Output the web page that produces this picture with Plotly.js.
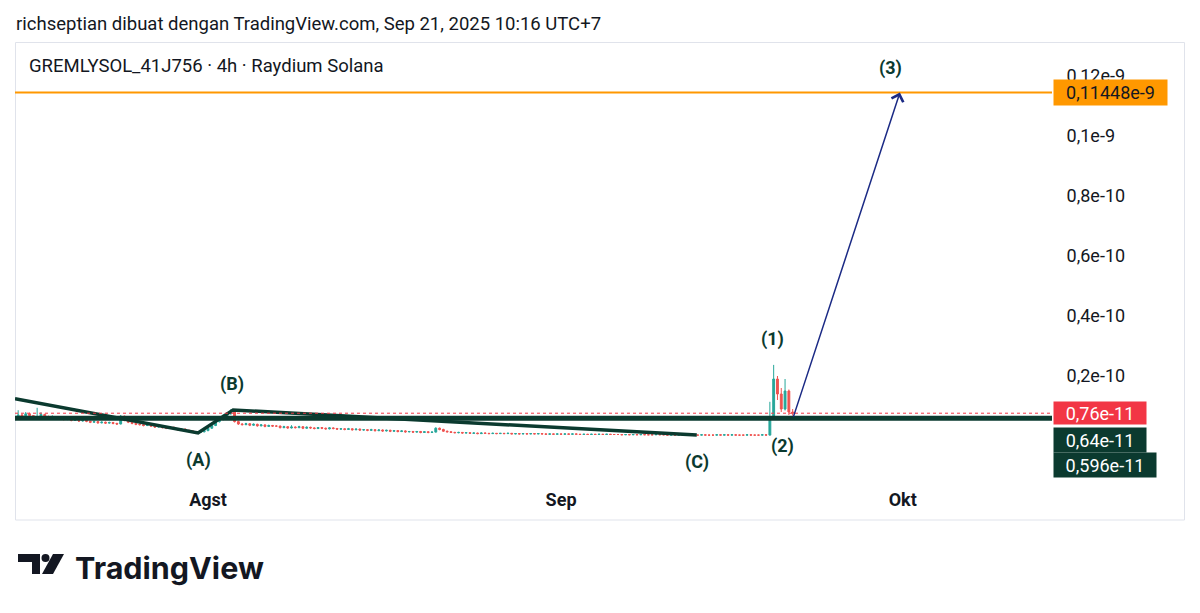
<!DOCTYPE html>
<html><head><meta charset="utf-8">
<script src="https://cdn.plot.ly/plotly-3.0.1.min.js"></script>
<style>html,body{margin:0;padding:0;background:#fff;}#chart{width:1200px;height:613px;}</style>
</head><body><div id="chart"></div>
<script>
// ---- data (prices in units of 1e-12) ----
const candleStart = '2025-07-15T00:00:00';
const candleStepHours = 8;
const openV = [6.0,6.2,7.0,6.6,7.4,6.8,6.1,6.5,7.2,
6.4,6.0,6.3,5.8,5.9,5.5,5.7,5.2,5.4,
5.0,5.3,4.9,4.6,4.8,4.4,4.6,4.3,4.5,
4.2,4.0,6.6,5.2,4.6,4.2,3.9,3.8,3.5,
3.7,3.3,3.0,3.2,2.8,2.6,2.9,2.4,2.1,
2.3,1.9,1.7,1.5,1.2,1.4,
1.8,2.6,3.5,4.8,5.5,6.6,7.4,8.2,4.8,
4.0,3.8,4.1,3.6,3.9,3.4,3.7,3.2,3.5,
3.3,3.3,2.8,3.1,2.7,3.0,2.8,3.1,2.6,
2.9,2.7,2.5,2.8,2.6,2.4,2.7,2.5,2.3,
2.4,2.2,2.4,2.1,2.3,2.0,2.1,1.9,2.1,
1.8,2.0,1.7,1.9,1.6,1.8,1.5,1.7,1.4,
1.5,1.3,1.5,1.2,1.4,1.2,1.3,2.6,2.2,
1.6,1.4,1.2,1.1,1.2,1.0,1.1,0.9,1.0,
0.8,1.0,0.9,0.8,0.9,0.8,0.9,0.8,0.9,
0.7,0.8,0.7,0.8,0.7,0.8,0.7,0.8,0.7,
0.6,0.7,0.6,
0.7,0.6,0.7,0.6,0.7,0.6,0.5,0.6,0.5,
0.6,0.5,0.6,0.5,0.6,0.5,0.5,0.5,0.4,
0.5,0.4,0.5,0.4,0.5,0.4,0.4,0.4,0.5,
0.4,0.4,0.3,0.4,0.3,0.4,0.3,0.4,0.3,
0.3,0.3,0.4,0.3,0.3,0.3,0.4,0.3,0.4,
0.3,0.4,0.3,0.3,0.3,0.4,0.3,0.3,0.3,
0.4,0.3,6.0,19.0,14.0,9.0,15.0,8.0];
const highV = [7.2,8.6,7.4,8.0,7.8,7.0,9.4,7.9,7.4,
6.8,6.9,6.5,6.4,6.1,6.0,5.9,5.8,5.6,
5.6,5.5,5.1,5.2,4.9,4.9,4.8,4.8,4.7,
4.4,7.0,6.8,5.4,4.8,4.4,4.2,4.0,4.0,
3.9,3.5,3.5,3.4,3.0,3.2,3.1,2.6,2.6,
2.5,2.1,1.9,1.7,1.7,2.1,
2.9,3.9,5.3,6.1,7.2,8.0,8.9,8.5,5.1,
4.3,4.4,4.3,4.2,4.1,4.0,3.9,3.8,3.7,
3.6,3.5,3.4,3.3,3.6,3.2,3.4,3.3,3.2,
3.1,2.9,3.0,3.0,2.8,2.9,2.9,2.7,2.6,
2.6,2.7,2.6,2.5,2.5,2.3,2.3,2.4,2.3,
2.3,2.2,2.1,2.1,2.0,2.0,1.9,1.9,1.7,
1.7,1.7,1.7,1.6,1.6,1.5,2.9,2.8,2.4,
1.8,1.6,1.4,1.4,1.3,1.3,1.2,1.2,1.1,
1.2,1.1,1.0,1.1,1.0,1.0,1.0,1.1,1.0,
0.9,0.9,0.9,0.9,0.9,0.9,0.9,0.9,0.8,
0.8,0.8,0.8,
0.8,0.8,0.8,0.8,0.8,0.7,0.7,0.7,0.7,
0.7,0.7,0.7,0.7,0.7,0.6,0.6,0.6,0.6,
0.6,0.6,0.6,0.6,0.6,0.5,0.5,0.6,0.6,
0.5,0.5,0.5,0.5,0.5,0.5,0.5,0.5,0.4,
0.4,0.5,0.5,0.4,0.4,0.5,0.5,0.5,0.5,
0.5,0.5,0.4,0.4,0.5,0.5,0.4,0.4,0.5,
0.5,11.4,23.7,20.0,16.0,19.0,15.5,9.0];
const lowV = [5.7,6.0,6.3,6.4,6.5,5.8,5.9,6.3,6.1,
5.7,5.8,5.5,5.5,5.2,5.3,4.9,5.0,4.7,
4.8,4.6,4.3,4.4,4.1,4.2,4.0,4.1,3.9,
3.7,3.9,4.9,4.3,3.9,3.6,3.5,3.2,3.3,
3.0,2.7,2.8,2.5,2.3,2.4,2.1,1.8,1.9,
1.6,1.4,1.2,0.9,1.0,1.2,
1.6,2.4,3.3,4.5,5.2,6.3,7.1,4.5,3.7,
3.5,3.6,3.3,3.4,3.1,3.2,2.9,3.0,3.0,
3.0,2.5,2.6,2.4,2.5,2.5,2.6,2.3,2.4,
2.4,2.2,2.3,2.3,2.1,2.2,2.2,2.0,2.1,
1.9,2.0,1.8,1.9,1.7,1.8,1.6,1.7,1.5,
1.6,1.4,1.5,1.3,1.4,1.2,1.3,1.1,1.2,
1.0,1.1,0.9,1.0,0.9,1.0,1.2,1.9,1.4,
1.2,1.0,0.9,0.9,0.8,0.9,0.7,0.8,0.6,
0.7,0.7,0.6,0.7,0.6,0.7,0.6,0.7,0.6,
0.6,0.5,0.6,0.5,0.6,0.6,0.6,0.5,0.5,
0.5,0.5,0.5,
0.5,0.5,0.5,0.5,0.5,0.4,0.4,0.4,0.4,
0.4,0.4,0.4,0.4,0.4,0.4,0.4,0.3,0.3,
0.3,0.3,0.3,0.3,0.3,0.3,0.3,0.3,0.3,
0.3,0.2,0.2,0.2,0.2,0.2,0.2,0.2,0.2,
0.2,0.2,0.2,0.2,0.2,0.2,0.2,0.2,0.2,
0.2,0.2,0.2,0.2,0.2,0.2,0.2,0.2,0.2,
0.2,0.2,5.5,12.0,8.0,8.5,7.0,6.8];
const closeV = [6.2,7.0,6.6,7.4,6.8,6.1,6.5,7.2,6.4,
6.0,6.3,5.8,5.9,5.5,5.7,5.2,5.4,5.0,
5.3,4.9,4.6,4.8,4.4,4.6,4.3,4.5,4.2,
4.0,6.6,5.2,4.6,4.2,3.9,3.8,3.5,3.7,
3.3,3.0,3.2,2.8,2.6,2.9,2.4,2.1,2.3,
1.9,1.7,1.5,1.2,1.4,1.8,
2.6,3.5,4.8,5.5,6.6,7.4,8.2,4.8,4.0,
3.8,4.1,3.6,3.9,3.4,3.7,3.2,3.5,3.3,
3.3,2.8,3.1,2.7,3.0,2.8,3.1,2.6,2.9,
2.7,2.5,2.8,2.6,2.4,2.7,2.5,2.3,2.4,
2.2,2.4,2.1,2.3,2.0,2.1,1.9,2.1,1.8,
2.0,1.7,1.9,1.6,1.8,1.5,1.7,1.4,1.5,
1.3,1.5,1.2,1.4,1.2,1.3,2.6,2.2,1.6,
1.4,1.2,1.1,1.2,1.0,1.1,0.9,1.0,0.8,
1.0,0.9,0.8,0.9,0.8,0.9,0.8,0.9,0.7,
0.8,0.7,0.8,0.7,0.8,0.7,0.8,0.7,0.6,
0.7,0.6,0.7,
0.6,0.7,0.6,0.7,0.6,0.5,0.6,0.5,0.6,
0.5,0.6,0.5,0.6,0.5,0.5,0.5,0.4,0.5,
0.4,0.5,0.4,0.5,0.4,0.4,0.4,0.5,0.4,
0.4,0.3,0.4,0.3,0.4,0.3,0.4,0.3,0.3,
0.3,0.4,0.3,0.3,0.3,0.4,0.3,0.4,0.3,
0.4,0.3,0.3,0.3,0.4,0.3,0.3,0.3,0.4,
0.3,6.0,19.0,14.0,9.0,15.0,8.0,7.6];

// Drawn levels
const targetLevel = 114.48;     // 0,11448e-9
const lastPrice = 7.6;          // 0,76e-11
const level2 = 6.4;             // 0,64e-11
const supportLevel = 5.96;      // 0,596e-11

// Zig-zag drawing (start, A, B, C)
const waveX = ['2025-07-15 01:20','2025-07-31 03:00','2025-08-03 05:00','2025-09-12 22:00'];
const waveY = [12.4, 1.0, 8.7, 0.3];

// Wave labels
const labelText = ['(A)','(B)','(C)','(1)','(2)','(3)'];
const labelX = ['2025-07-31 05:00','2025-08-03 02:40','2025-09-12 22:20','2025-09-19 14:30','2025-09-20 09:40','2025-09-29 23:00'];
const labelY = [-8.0, 17.3, -8.7, 32.3, -3.3, 122.7];

// Projection arrow
const arrowFromX = '2025-09-21 08:40', arrowFromY = supportLevel;
const arrowToX = '2025-09-30 18:00', arrowToY = targetLevel;

// Axis ticks
const xTickVals = ['2025-08-01','2025-09-01','2025-10-01'];
const xTickText = ['Agst','Sep','Okt'];
const yTickVals = [20,40,60,80,100,120];
const yTickText = ['0,2e-10','0,4e-10','0,6e-10','0,8e-10','0,1e-9','0,12e-9'];

// ---- build ----
const t0 = new Date(candleStart + 'Z').getTime();
const times = openV.map((_, i) => new Date(t0 + i*candleStepHours*3600e3).toISOString().slice(0,16).replace('T',' '));

const W = 1200, H = 613, L = 15, R = 148, T = 42, B = 131;
const PW = W - L - R, PH = H - T - B;
const PX = px => (px - L) / PW;
const PY = py => (H - B - py) / PH;

const DARK = '#0b3a2f';
const FONT = 'Roboto, "Noto Sans", sans-serif';

const traces = [
  {type:'candlestick', x: times, open: openV, high: highV, low: lowV, close: closeV,
   increasing:{line:{color:'#26a69a', width:1}, fillcolor:'#26a69a'},
   decreasing:{line:{color:'#ef5350', width:1}, fillcolor:'#ef5350'},
   whiskerwidth:0, hoverinfo:'skip', showlegend:false},
  {type:'scatter', mode:'lines', x: waveX, y: waveY, line:{color:DARK, width:3.5}, hoverinfo:'skip', showlegend:false}
];

const shapes = [
  {type:'rect', xref:'paper', yref:'paper', x0:PX(15.5), x1:PX(1184.5), y0:PY(520), y1:PY(42.5), line:{color:'#e0e3eb', width:1}, layer:'below'},
  {type:'line', xref:'paper', yref:'y', x0:0, x1:1, y0:lastPrice, y1:lastPrice, line:{color:'#f23645', width:1, dash:'dot'}},
  {type:'line', xref:'paper', yref:'y', x0:0, x1:1, y0:supportLevel, y1:supportLevel, line:{color:DARK, width:5}},
  {type:'line', xref:'paper', yref:'y', x0:0, x1:1, y0:targetLevel, y1:targetLevel, line:{color:'#ff9800', width:2}},
  // TradingView logo mark
  {type:'path', xref:'paper', yref:'paper', path:`M ${PX(18)} ${PY(554)} L ${PX(40)} ${PY(554)} L ${PX(40)} ${PY(574)} L ${PX(32)} ${PY(574)} L ${PX(32)} ${PY(562)} L ${PX(18)} ${PY(562)} Z`, fillcolor:'#131722', line:{width:0}},
  {type:'circle', xref:'paper', yref:'paper', x0:PX(41.5), x1:PX(49.5), y0:PY(562), y1:PY(554), fillcolor:'#131722', line:{width:0}},
  {type:'path', xref:'paper', yref:'paper', path:`M ${PX(53)} ${PY(554)} L ${PX(64)} ${PY(554)} L ${PX(53)} ${PY(574)} L ${PX(42)} ${PY(574)} Z`, fillcolor:'#131722', line:{width:0}}
];

const annotations = [
  {xref:'paper', yref:'paper', x:PX(14), y:PY(24), xanchor:'left', yanchor:'middle', showarrow:false,
   text:'richseptian dibuat dengan TradingView.com, Sep 21, 2025 10:16 UTC+7', font:{family:FONT, size:18.5, color:'#131722'}},
  {xref:'paper', yref:'paper', x:PX(26.5), y:PY(66), xanchor:'left', yanchor:'middle', showarrow:false,
   text:'GREMLYSOL_41J756 · 4h · Raydium Solana', font:{family:FONT, size:18.5, color:'#131722'}},
  {xref:'paper', yref:'paper', x:PX(73), y:PY(567), xanchor:'left', yanchor:'middle', showarrow:false,
   text:'TradingView', font:{family:'Inter, Lato, sans-serif', size:30.5, color:'#131722', weight:700}},
  // arrow
  {xref:'x', yref:'y', axref:'x', ayref:'y', x:arrowToX, y:arrowToY, ax:arrowFromX, ay:arrowFromY,
   showarrow:true, arrowhead:4, arrowsize:1.6, arrowwidth:1.5, arrowcolor:'#1b2a85', text:''},
  // price labels
  {xref:'paper', yref:'y', x:PX(1053), y:targetLevel, xanchor:'left', yanchor:'middle', showarrow:false,
   text:'0,11448e-9', width:113, height:25, borderpad:0, bgcolor:'#ff9800', font:{family:FONT, size:18, color:'#131722'}},
  {xref:'paper', yref:'y', x:PX(1053), y:lastPrice, xanchor:'left', yanchor:'middle', showarrow:false,
   text:'0,76e-11', width:92, height:22, borderpad:0, bgcolor:'#f23645', font:{family:FONT, size:18, color:'#ffffff'}},
  {xref:'paper', yref:'paper', x:PX(1053), y:PY(440), xanchor:'left', yanchor:'middle', showarrow:false,
   text:'0,64e-11', width:92, height:24, borderpad:0, bgcolor:DARK, font:{family:FONT, size:18, color:'#ffffff'}},
  {xref:'paper', yref:'paper', x:PX(1053), y:PY(465), xanchor:'left', yanchor:'middle', showarrow:false,
   text:'0,596e-11', width:102, height:24, borderpad:0, bgcolor:DARK, font:{family:FONT, size:18, color:'#ffffff'}}
];
labelText.forEach((t, i) => annotations.push({xref:'x', yref:'y', x:labelX[i], y:labelY[i], showarrow:false,
  text:t, font:{family:FONT, size:18, color:DARK, weight:700}}));

const layout = {
  width:W, height:H, margin:{l:L, r:R, t:T, b:B, pad:0},
  paper_bgcolor:'#ffffff', plot_bgcolor:'#ffffff', showlegend:false,
  xaxis:{type:'date', range:['2025-07-15 01:19','2025-10-14 02:30'], rangeslider:{visible:false},
    tickvals:xTickVals, ticktext:xTickText, showgrid:false, zeroline:false, showline:false,
    ticks:'outside', ticklen:1, tickcolor:'rgba(0,0,0,0)', tickfont:{family:FONT, size:18, color:'#131722', weight:700}, fixedrange:true},
  yaxis:{side:'right', range:[-15.33, 131.33], tickvals:yTickVals, ticktext:yTickText,
    showgrid:false, zeroline:false, showline:false, ticks:'outside', ticklen:10, tickcolor:'rgba(0,0,0,0)',
    tickfont:{family:FONT, size:18, color:'#131722'}, fixedrange:true},
  shapes, annotations
};
Plotly.newPlot('chart', traces, layout, {staticPlot:true, displayModeBar:false});
</script></body></html>
